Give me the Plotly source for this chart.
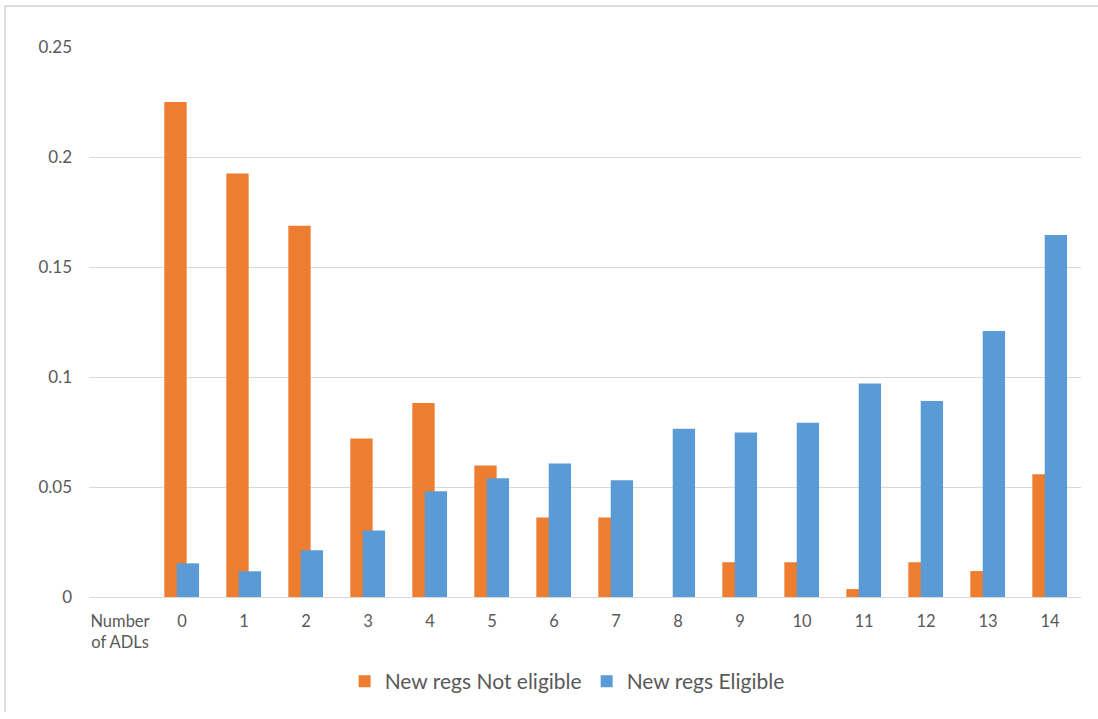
import plotly.graph_objects as go

categories = ["Number<br>of ADLs", "0", "1", "2", "3", "4", "5", "6", "7",
              "8", "9", "10", "11", "12", "13", "14"]
not_eligible = [None, 0.225, 0.1925, 0.1687, 0.0721, 0.0882, 0.0598, 0.0361,
                0.0361, 0.0, 0.0158, 0.0158, 0.0036, 0.0158, 0.0118, 0.0558]
eligible = [None, 0.0153, 0.0117, 0.0213, 0.0302, 0.0481, 0.0540, 0.0607,
            0.0531, 0.0765, 0.0748, 0.0792, 0.0971, 0.0891, 0.1209, 0.1646]
y_ticks = [0, 0.05, 0.1, 0.15, 0.2, 0.25]
y_tick_text = ["0", "0.05", "0.1", "0.15", "0.2", "0.25"]

ORANGE = "#ED7D31"
BLUE = "#5B9BD5"
TEXT = "#595959"
GRID = "#D9D9D9"
FONT = "Lato, Carlito, Calibri, sans-serif"

fig = go.Figure()
fig.add_trace(go.Bar(
    x=categories, y=not_eligible, name="New regs Not eligible",
    marker=dict(color=ORANGE, line=dict(width=0)),
    width=0.36, offset=-0.285,
))
fig.add_trace(go.Bar(
    x=categories, y=eligible, name="New regs Eligible",
    marker=dict(color=BLUE, line=dict(width=0)),
    width=0.36, offset=-0.085,
))

W, H = 1098, 719
L, R, T, B = 89, 17, 47, 122
pw, ph = W - L - R, H - T - B

def px_x(p):
    return (p - L) / pw

def px_y(p):
    return (H - B - p) / ph

fig.update_layout(
    width=W, height=H,
    margin=dict(l=L, r=R, t=T, b=B, pad=0),
    barmode="overlay",
    paper_bgcolor="white",
    plot_bgcolor="white",
    font=dict(family=FONT, size=16.5, color=TEXT),
    showlegend=True,
    legend=dict(
        orientation="h", x=0.482, xanchor="center", y=px_y(661), yanchor="top",
        font=dict(family=FONT, size=21, color=TEXT),
        bgcolor="rgba(0,0,0,0)",
        itemwidth=30,
    ),
    xaxis=dict(
        type="category", categoryorder="array", categoryarray=categories,
        showgrid=False, showline=True, linecolor=GRID, linewidth=1,
        ticks="", ticklabelstandoff=9,
        tickfont=dict(family=FONT, size=16.5, color=TEXT),
        range=[-0.5, len(categories) - 0.5],
    ),
    yaxis=dict(
        range=[0, 0.25], tickvals=y_ticks, ticktext=y_tick_text,
        showgrid=True, gridcolor=GRID, gridwidth=1,
        zeroline=False, showline=False, ticks="",
        ticklabelstandoff=16,
        tickfont=dict(family=FONT, size=17, color=TEXT),
    ),
    shapes=[
        dict(type="line", xref="paper", yref="paper",
             x0=px_x(5), x1=px_x(1098), y0=px_y(6), y1=px_y(6),
             line=dict(color="#BFBFBF", width=1)),
        dict(type="line", xref="paper", yref="paper",
             x0=px_x(5), x1=px_x(5), y0=px_y(6), y1=px_y(712),
             line=dict(color="#BFBFBF", width=1)),
    ],
)

fig.write_html("out.html", config={"displayModeBar": False},
               post_script="document.body.style.margin='0';")
